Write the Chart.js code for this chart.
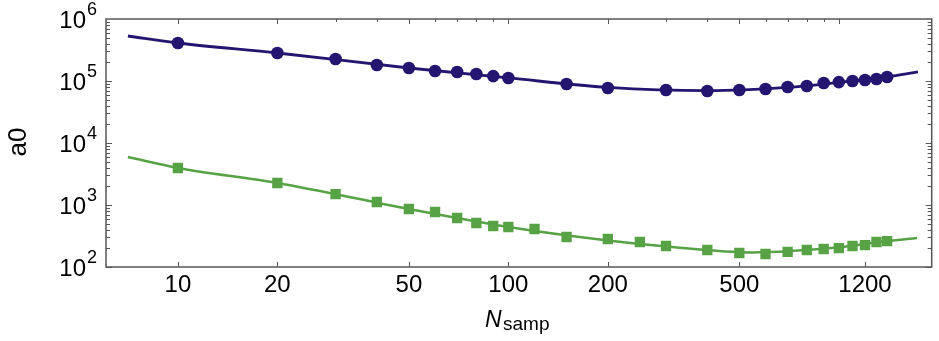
<!DOCTYPE html>
<html>
<head>
<meta charset="utf-8">
<script src="https://cdn.jsdelivr.net/npm/chart.js@4.4.1/dist/chart.umd.min.js"></script>
<style>
  html, body { margin: 0; padding: 0; background: #fff; }
</style>
</head>
<body>
<canvas id="chart" width="939" height="341"></canvas>
<script>
const blueX = [10, 20, 30, 40, 50, 60, 70, 80, 90, 100, 150, 200, 300, 400, 500, 600, 700, 800, 900, 1000, 1100, 1200, 1300, 1400];
const blueY = [410000, 283000, 226000, 181000, 162000, 145000, 140000, 130000, 120000, 112000, 89500, 77000, 71600, 69000, 71600, 74300, 80000, 83000, 93000, 96000, 100000, 104000, 108000, 116000];
const greenX = [10, 20, 30, 40, 50, 60, 70, 80, 90, 100, 120, 150, 200, 250, 300, 400, 500, 600, 700, 800, 900, 1000, 1100, 1200, 1300, 1400];
const greenY = [3950, 2265, 1500, 1117, 861, 771, 617, 513, 459, 442, 410, 305, 283, 253, 218, 188, 168, 162, 175, 188, 195, 202, 218, 226, 253, 262];

// fitted curves
const blueFitX = [7.06, 10, 20, 50, 100, 200, 400, 700, 1000, 1400, 1735];
const blueFitY = [532000, 410000, 283000, 162000, 112000, 79000, 70000, 79000, 95000, 117000, 140000];
const greenFitX = [7.06, 10, 20, 50, 100, 200, 300, 550, 1000, 1400, 1725];
const greenFitY = [5940, 3950, 2265, 861, 442, 268, 215, 172, 208, 262, 294];

// axes
const xTickLabels = [10, 20, 50, 100, 200, 500, 1200];
const xTopMajor = [10, 20, 50, 100, 200, 500, 1000];
const xTopMinor = [30, 40, 60, 70, 80, 90, 300, 400, 600, 700, 800, 900];
const yTickPowers = [2, 3, 4, 5, 6];

const BLUE = 'rgb(36,22,112)';
const GREEN = 'rgb(88,162,70)';
const FONT = "'Liberation Sans', Arial, sans-serif";

const toPts = (xs, ys) => xs.map((v, i) => ({ x: v, y: ys[i] }));

const framePlugin = {
  id: 'frame',
  afterDatasetsDraw(chart) {
    const { ctx, chartArea: a, scales: { x, y } } = chart;
    ctx.save();
    ctx.strokeStyle = '#555';
    ctx.lineWidth = 1.5;
    ctx.strokeRect(a.left, a.top, a.right - a.left, a.bottom - a.top);

    ctx.lineWidth = 1;
    ctx.beginPath();
    // left / right ticks, all inward
    const pMin = yTickPowers[0], pMax = yTickPowers[yTickPowers.length - 1];
    for (let p = pMin; p < pMax; p++) {
      for (let m = 1; m <= 9; m++) {
        const py = Math.round(y.getPixelForValue(m * Math.pow(10, p))) + 0.5;
        const len = m === 1 ? 6 : 4;
        ctx.moveTo(a.left, py); ctx.lineTo(a.left + len, py);
        ctx.moveTo(a.right, py); ctx.lineTo(a.right - len, py);
      }
    }
    // top ticks
    xTopMajor.forEach(v => {
      const px = Math.round(x.getPixelForValue(v)) + 0.5;
      ctx.moveTo(px, a.top); ctx.lineTo(px, a.top + 5);
    });
    xTopMinor.forEach(v => {
      const px = Math.round(x.getPixelForValue(v)) + 0.5;
      ctx.moveTo(px, a.top); ctx.lineTo(px, a.top + 3);
    });
    // bottom ticks
    xTickLabels.forEach(v => {
      const px = Math.round(x.getPixelForValue(v)) + 0.5;
      ctx.moveTo(px, a.bottom); ctx.lineTo(px, a.bottom - 5);
    });
    ctx.stroke();

    // tick labels
    ctx.fillStyle = '#000';
    ctx.textBaseline = 'alphabetic';
    ctx.font = '24px ' + FONT;
    ctx.textAlign = 'center';
    xTickLabels.forEach(v => {
      ctx.fillText(String(v), x.getPixelForValue(v), a.bottom + 25);
    });
    yTickPowers.forEach(p => {
      const py = y.getPixelForValue(Math.pow(10, p));
      ctx.font = '24px ' + FONT;
      ctx.textAlign = 'right';
      ctx.fillText('10', 86, py + 8.5);
      ctx.font = '18px ' + FONT;
      ctx.textAlign = 'left';
      ctx.fillText(String(p), 87, py - 4);
    });

    // axis titles
    ctx.textAlign = 'left';
    ctx.font = 'italic 23px ' + FONT;
    ctx.fillText('N', 485, 327);
    ctx.font = '19px ' + FONT;
    ctx.fillText('samp', 503, 330);

    ctx.translate(26, 142);
    ctx.rotate(-Math.PI / 2);
    ctx.textAlign = 'center';
    ctx.font = '26px ' + FONT;
    ctx.fillText('a0', 0, 0);
    ctx.restore();
  }
};

new Chart(document.getElementById('chart').getContext('2d'), {
  type: 'scatter',
  data: {
    datasets: [
      {
        label: 'blue points',
        data: toPts(blueX, blueY),
        pointStyle: 'circle',
        pointRadius: 6.3,
        backgroundColor: BLUE,
        borderColor: BLUE,
        borderWidth: 0,
        order: 1
      },
      {
        label: 'green points',
        data: toPts(greenX, greenY),
        pointStyle: 'rect',
        pointRadius: 7.3,
        backgroundColor: GREEN,
        borderColor: GREEN,
        borderWidth: 0,
        order: 1
      },
      {
        label: 'blue fit',
        data: toPts(blueFitX, blueFitY),
        showLine: true,
        pointRadius: 0,
        borderColor: BLUE,
        borderWidth: 2.8,
        cubicInterpolationMode: 'monotone',
        order: 2
      },
      {
        label: 'green fit',
        data: toPts(greenFitX, greenFitY),
        showLine: true,
        pointRadius: 0,
        borderColor: GREEN,
        borderWidth: 2.5,
        cubicInterpolationMode: 'monotone',
        order: 2
      }
    ]
  },
  options: {
    responsive: false,
    animation: false,
    layout: { padding: { left: 106, right: 6, top: 19, bottom: 74 } },
    plugins: { legend: { display: false }, tooltip: { enabled: false } },
    scales: {
      x: { type: 'logarithmic', min: 6.06, max: 1910, display: false },
      y: { type: 'logarithmic', min: 100, max: 1000000, display: false }
    }
  },
  plugins: [framePlugin]
});
</script>
</body>
</html>
